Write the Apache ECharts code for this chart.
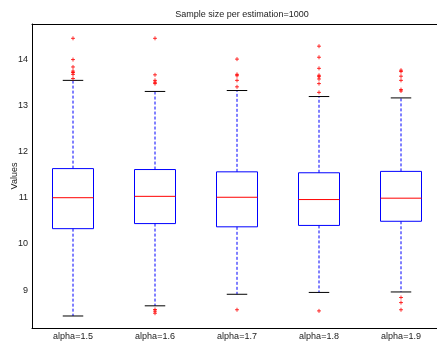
<!DOCTYPE html>
<html>
<head>
<meta charset="utf-8">
<script src="https://cdn.jsdelivr.net/npm/echarts@6/dist/echarts.min.js"></script>
<style>
  html, body { margin: 0; padding: 0; background: #fff; }
  #chart { width: 437px; height: 342px; }
</style>
</head>
<body>
<div id="chart"></div>
<script>
// Box-plot summary per alpha setting
const categories = ['alpha=1.5', 'alpha=1.6', 'alpha=1.7', 'alpha=1.8', 'alpha=1.9'];
const lowerWhisker = [8.44, 8.66, 8.91, 8.95, 8.96];
const quartile1    = [10.33, 10.44, 10.37, 10.40, 10.49];
const medians      = [11.00, 11.03, 11.01, 10.96, 10.99];
const quartile3    = [11.63, 11.61, 11.56, 11.54, 11.57];
const upperWhisker = [13.54, 13.30, 13.32, 13.19, 13.16];
const outliers = [
  [14.45, 13.99, 13.83, 13.74, 13.71, 13.67, 13.58],
  [14.45, 13.66, 13.54, 13.50, 13.47, 8.58, 8.545, 8.50],
  [14.00, 13.67, 13.64, 13.54, 13.40, 8.575],
  [14.28, 14.04, 13.80, 13.65, 13.62, 13.57, 13.47, 13.28, 8.55],
  [13.76, 13.73, 13.63, 13.54, 13.34, 13.31, 8.84, 8.73, 8.575]
];
const yTicks = [9, 10, 11, 12, 13, 14];

const boxRows = categories.map((c, i) =>
  [i, lowerWhisker[i], quartile1[i], medians[i], quartile3[i], upperWhisker[i]]);
const outlierPoints = [];
outliers.forEach((list, i) => list.forEach(v => outlierPoints.push([i, v])));

function renderBox(params, api) {
  const i = api.value(0);
  const band = api.size([1, 0])[0];
  const cx = api.coord([i, 0])[0];
  const y = k => api.coord([i, api.value(k)])[1];
  const yLow = y(1), yQ1 = y(2), yMed = y(3), yQ3 = y(4), yUp = y(5);
  const bh = band * 0.25;   // half box width
  const ch = band * 0.125;  // half whisker-cap width
  const dash = { stroke: '#0000ff', lineWidth: 1, lineDash: [3, 2], fill: null };
  const solid = c => ({ stroke: c, lineWidth: 1, fill: null });
  return {
    type: 'group',
    children: [
      { type: 'line', shape: { x1: cx, y1: yQ3, x2: cx, y2: yUp }, style: dash },
      { type: 'line', shape: { x1: cx, y1: yQ1, x2: cx, y2: yLow }, style: dash },
      { type: 'line', shape: { x1: cx - ch, y1: yUp, x2: cx + ch, y2: yUp }, style: solid('#000') },
      { type: 'line', shape: { x1: cx - ch, y1: yLow, x2: cx + ch, y2: yLow }, style: solid('#000') },
      { type: 'rect', shape: { x: cx - bh, y: yQ3, width: 2 * bh, height: yQ1 - yQ3 }, style: solid('#0000ff') },
      { type: 'line', shape: { x1: cx - bh, y1: yMed, x2: cx + bh, y2: yMed }, style: solid('#ff0000') }
    ]
  };
}

const font = 'Liberation Sans, Arial, Helvetica, sans-serif';
const axisLine = { show: true, lineStyle: { color: '#000', width: 1 } };

const chart = echarts.init(document.getElementById('chart'), null, { renderer: 'canvas' });
chart.setOption({
  animation: false,
  backgroundColor: '#fff',
  title: {
    text: 'Sample size per estimation=1000',
    left: 237, top: 5, textAlign: 'center',
    textStyle: { fontSize: 9, fontWeight: 'normal', color: '#222', fontFamily: font }
  },
  grid: { left: 32, top: 24, width: 410, height: 304, outerBoundsMode: 'none', containLabel: false },
  xAxis: [
    {
      type: 'category', data: categories, position: 'bottom',
      axisLine: axisLine,
      axisTick: { inside: true, length: 4, alignWithLabel: true, lineStyle: { color: '#000' } },
      axisLabel: { fontSize: 9, color: '#222', margin: 4, fontFamily: font },
      splitLine: { show: false }
    },
    {
      type: 'category', data: categories, position: 'top',
      axisLine: axisLine,
      axisTick: { inside: true, length: 4, alignWithLabel: true, lineStyle: { color: '#000' } },
      axisLabel: { show: false },
      splitLine: { show: false }
    }
  ],
  yAxis: {
    type: 'value', min: 8.18, max: 14.76,
    name: 'Values', nameLocation: 'middle', nameGap: 13, nameRotate: 90,
    nameMoveOverlap: false,
    nameTextStyle: { fontSize: 9, color: '#222', fontFamily: font },
    axisLine: axisLine,
    axisTick: { inside: true, length: 4, customValues: yTicks, lineStyle: { color: '#000' } },
    axisLabel: { fontSize: 9, color: '#222', margin: 4, customValues: yTicks, fontFamily: font },
    splitLine: { show: false }
  },
  series: [
    {
      type: 'custom',
      renderItem: renderBox,
      data: boxRows,
      encode: { x: 0, y: [1, 2, 3, 4, 5] },
      clip: false
    },
    {
      type: 'scatter',
      data: outlierPoints,
      symbol: 'path://M0,2H4M2,0V4',
      symbolSize: 4,
      itemStyle: { color: 'none', borderColor: '#ff0000', borderWidth: 1 }
    }
  ]
});
</script>
</body>
</html>
